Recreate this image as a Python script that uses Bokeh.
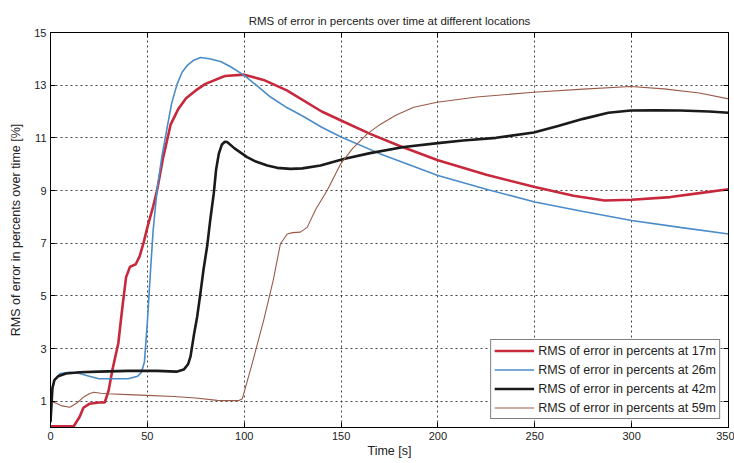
from bokeh.plotting import figure
from bokeh.models import Legend, LegendItem, LinearAxis, FixedTicker, Range1d
from bokeh.embed import file_html
from bokeh.resources import INLINE

# ---- data ----
x_ticks = [0, 50, 100, 150, 200, 250, 300, 350]
y_ticks = [1, 3, 5, 7, 9, 11, 13, 15]

t_17 = [0, 5, 12, 15, 17, 20, 25, 28, 30, 32, 35, 37, 39, 41, 44, 46, 48, 50, 53, 55, 58, 62, 66, 70,
        75, 80, 90, 100, 110, 122, 140, 150, 165, 180, 200, 225, 250, 270, 286, 300, 320, 335, 350]
v_17 = [0.05, 0.05, 0.05, 0.4, 0.75, 0.9, 0.95, 0.95, 1.4, 2.2, 3.2, 4.5, 5.7, 6.1, 6.2, 6.5, 7.0, 7.6,
        8.4, 9.0, 10.2, 11.5, 12.1, 12.5, 12.8, 13.05, 13.35, 13.4, 13.2, 12.8, 12.0, 11.66, 11.15,
        10.7, 10.15, 9.6, 9.13, 8.8, 8.62, 8.65, 8.75, 8.9, 9.05]

t_26 = [0, 2, 5, 10, 15, 20, 25, 30, 35, 40, 45, 47, 48.5, 50, 51.5, 53, 55, 57.5, 60, 62.5, 65.4, 68,
        70.6, 74, 77.4, 82, 87.8, 93, 100, 107, 113.6, 122, 130.8, 140, 150, 170, 200, 225, 250, 275,
        300, 325, 350]
v_26 = [1.1, 1.8, 2.05, 2.1, 2.05, 1.95, 1.85, 1.85, 1.85, 1.85, 1.95, 2.1, 2.5, 4.0, 5.8, 7.5, 9.0,
        10.3, 11.3, 12.3, 13.05, 13.5, 13.75, 13.95, 14.05, 14.0, 13.9, 13.7, 13.37, 12.95, 12.55,
        12.15, 11.8, 11.4, 11.03, 10.4, 9.57, 9.05, 8.56, 8.2, 7.86, 7.6, 7.35]

t_42 = [0, 1, 2, 4, 8, 15, 25, 40, 55, 65, 68.8, 71, 72.3, 74, 75.7, 77.4, 79, 80.9, 82.5, 84.3, 85.5,
        86.9, 88.5, 90, 91.2, 95, 101.5, 106, 111.9, 117, 123.9, 130, 139.4, 151.3, 165, 182.4, 200,
        213, 230, 249.5, 262, 275, 288, 299.5, 312, 325, 340, 350]
v_42 = [0.2, 1.5, 1.8, 1.95, 2.05, 2.1, 2.12, 2.15, 2.15, 2.12, 2.2, 2.4, 2.7, 3.5, 4.2, 5.1, 6.0, 6.9,
        7.9, 8.9, 9.8, 10.4, 10.75, 10.85, 10.84, 10.6, 10.27, 10.1, 9.95, 9.86, 9.82, 9.84, 9.95,
        10.2, 10.42, 10.65, 10.8, 10.9, 11.0, 11.2, 11.45, 11.72, 11.95, 12.04, 12.05, 12.04, 12.0,
        11.95]

t_59 = [0, 3, 6, 10, 14, 17, 20, 22.4, 26, 29.3, 40, 50, 63.6, 75, 86, 92, 97, 99, 104, 110, 115,
        118.7, 122.2, 125, 129, 132.5, 137, 142.8, 149.7, 156, 163.5, 170, 178, 187.5, 199.6, 220,
        249.5, 275, 299.5, 316.7, 335, 350]
v_59 = [1.0, 0.92, 0.82, 0.77, 0.95, 1.15, 1.28, 1.34, 1.3, 1.28, 1.25, 1.22, 1.18, 1.12, 1.03, 1.02,
        1.02, 1.09, 2.4, 4.06, 5.6, 6.98, 7.35, 7.4, 7.42, 7.6, 8.3, 9.0, 10.0, 10.6, 11.15, 11.5,
        11.85, 12.16, 12.35, 12.55, 12.73, 12.85, 12.95, 12.86, 12.7, 12.48]

labels = ["RMS of error in percents at 17m", "RMS of error in percents at 26m",
          "RMS of error in percents at 42m", "RMS of error in percents at 59m"]
colors = ["#c8283c", "#4a8cc8", "#1a1a1a", "#9a5a48"]
widths = [2.6, 1.6, 2.6, 1.1]

FONT = "Liberation Sans"

p = figure(width=734, height=463, output_backend="svg", toolbar_location=None,
           x_range=Range1d(0, 350), y_range=Range1d(0, 15),
           min_border_left=50, min_border_right=6, min_border_top=32, min_border_bottom=36,
           title="RMS of error in percents over time at different locations")
p.title.align = "center"
p.title.text_font = FONT
p.title.text_font_size = "11.5px"
p.title.text_font_style = "normal"
p.title.text_color = "#222222"
p.title.standoff = 11

p.background_fill_color = "white"
p.border_fill_color = "white"
p.outline_line_color = "black"
p.outline_line_width = 1

for ax in (p.xaxis[0], p.yaxis[0]):
    ax.major_tick_in = 5
    ax.major_tick_out = 0
    ax.minor_tick_line_color = None
    ax.axis_line_color = "black"
    ax.major_tick_line_color = "black"
    ax.major_label_text_font = FONT
    ax.major_label_text_font_size = "11px"
    ax.major_label_text_color = "#222222"
    ax.axis_label_text_font = FONT
    ax.axis_label_text_font_size = "12.5px"
    ax.axis_label_text_font_style = "normal"
    ax.axis_label_text_color = "#222222"

p.xaxis.ticker = FixedTicker(ticks=x_ticks)
p.yaxis.ticker = FixedTicker(ticks=y_ticks)
p.xaxis.axis_label = "Time [s]"
p.yaxis.axis_label = "RMS of error in percents over time [%]"
p.xaxis.major_label_standoff = 4
p.xaxis.axis_label_standoff = 1
p.yaxis.major_label_standoff = 4
p.yaxis.axis_label_standoff = 8

p.xgrid.ticker = FixedTicker(ticks=x_ticks)
p.ygrid.ticker = FixedTicker(ticks=y_ticks)
for g in (p.xgrid[0], p.ygrid[0]):
    g.grid_line_color = "#222222"
    g.grid_line_dash = "2 3"
    g.grid_line_width = 1
    g.grid_line_alpha = 0.85

# mirrored tick marks on the right and top edges (MATLAB box style), no labels
for ticks, side in ((y_ticks, "right"), (x_ticks, "above")):
    mirror = LinearAxis(ticker=FixedTicker(ticks=ticks), major_tick_in=5, major_tick_out=0,
                        minor_tick_line_color=None, major_label_text_color=None,
                        major_label_text_font_size="11px", major_label_standoff=0,
                        axis_line_color="black", major_tick_line_color="black")
    p.add_layout(mirror, side)

series = [(t_17, v_17), (t_26, v_26), (t_42, v_42), (t_59, v_59)]
renderers = []
for (t, v), c, w in zip(series, colors, widths):
    renderers.append(p.line(t, v, line_color=c, line_width=w))

items = [LegendItem(label=l, renderers=[r]) for l, r in zip(labels, renderers)]
legend = Legend(items=items, location="bottom_right", margin=8,
                border_line_color="black", border_line_width=1,
                background_fill_color="white", background_fill_alpha=1.0,
                label_text_font=FONT, label_text_font_size="12.5px", label_text_color="#222222",
                glyph_width=40, glyph_height=15, label_height=15, label_standoff=4,
                padding=3, spacing=4)
p.add_layout(legend)

open("out.html", "w").write(file_html(p, INLINE))
